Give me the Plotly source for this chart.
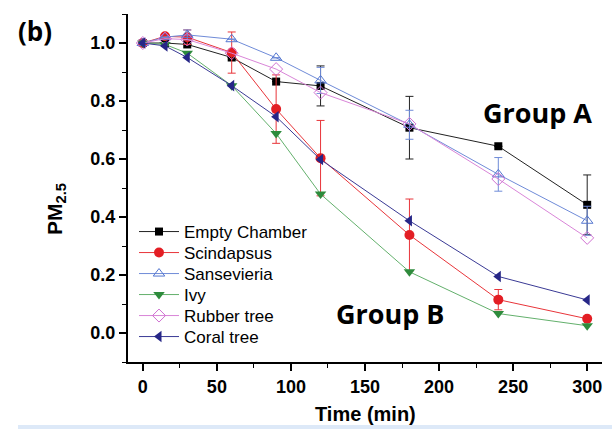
import plotly.graph_objects as go

# ---- data ----
time_min = [0, 15, 30, 60, 90, 120, 180, 240, 300]

empty_chamber = [1.0, 1.0, 0.995, 0.95, 0.867, 0.852, 0.708, 0.644, 0.442]
empty_chamber_err = [0, 0, 0, 0, 0, 0.069, 0.108, 0, 0.103]

scindapsus = [1.0, 1.023, 1.02, 0.967, 0.772, 0.603, 0.338, 0.115, 0.049]
scindapsus_err = [0, 0, 0.025, 0.071, 0.118, 0.13, 0.124, 0.035, 0]

sansevieria = [1.0, 1.02, 1.028, 1.013, 0.949, 0.871, 0.718, 0.547, 0.387]
sansevieria_err = [0, 0, 0.017, 0, 0, 0.045, 0.05, 0.058, 0.05]

ivy = [1.0, 0.995, 0.965, 0.853, 0.688, 0.479, 0.211, 0.067, 0.025]
rubber_tree = [1.0, 1.015, 1.012, 0.965, 0.91, 0.829, 0.721, 0.531, 0.328]
coral_tree = [1.0, 0.99, 0.95, 0.853, 0.746, 0.598, 0.387, 0.195, 0.114]

series_names = ["Empty Chamber", "Scindapsus", "Sansevieria", "Ivy", "Rubber tree", "Coral tree"]
x_ticks = [0, 50, 100, 150, 200, 250, 300]
y_ticks = [0.0, 0.2, 0.4, 0.6, 0.8, 1.0]

# ---- geometry helpers (pixel -> paper) ----
W, H = 612, 429
L, R, T, B = 128, 10, 14, 67
PW, PH = W - L - R, H - T - B

def px(xp):
    return (xp - L) / PW

def py(yp):
    return (H - B - yp) / PH

fig = go.Figure()

styles = [
    dict(y=empty_chamber, err=empty_chamber_err, line="#222222", mcolor="#000000", symbol="square", size=8, lw=0),
    dict(y=scindapsus, err=scindapsus_err, line="#e8353a", mcolor="#e31e24", symbol="circle", size=10, lw=0),
    dict(y=sansevieria, err=sansevieria_err, line="#6f8bd8", mcolor="#5577d0", symbol="triangle-up-open", size=10, lw=1),
    dict(y=ivy, err=None, line="#63b06c", mcolor="#2e8b3c", symbol="triangle-down", size=10, lw=0),
    dict(y=rubber_tree, err=None, line="#d985d8", mcolor="#d070d2", symbol="diamond-open", size=10, lw=1),
    dict(y=coral_tree, err=None, line="#3a3a95", mcolor="#262687", symbol="triangle-left", size=10, lw=0),
]

legend_rows = [232, 253, 274, 295, 316, 337]
legend_layout = {}

for i, (name, s) in enumerate(zip(series_names, styles)):
    kw = {}
    if s["err"] is not None:
        kw["error_y"] = dict(type="data", array=s["err"], visible=True,
                             color=s["line"], thickness=1, width=4)
    lname = "legend" if i == 0 else f"legend{i + 1}"
    fig.add_trace(go.Scatter(
        x=time_min, y=s["y"], name=name, mode="lines+markers",
        line=dict(color=s["line"], width=1),
        marker=dict(symbol=s["symbol"], size=s["size"], color=s["mcolor"],
                    line=dict(color=s["mcolor"], width=s["lw"])),
        legend=lname,
        **kw,
    ))
    legend_layout[lname] = dict(
        x=px(134), y=py(legend_rows[i]), xanchor="left", yanchor="middle",
        bgcolor="rgba(0,0,0,0)", font=dict(size=17, color="black",
                                           family="Liberation Sans, Arial"),
        itemwidth=40,
    )

axis_common = dict(
    showline=True, linecolor="black", linewidth=2, showgrid=False, zeroline=False,
    ticks="outside", ticklen=7, tickwidth=1.5, tickcolor="black",
    tickfont=dict(family="Liberation Sans, Arial", size=18, color="black", weight="bold"),
    mirror=False,
)

fig.update_xaxes(range=[-10, 310], tickvals=x_ticks,
                 minor=dict(ticks="outside", ticklen=4, tickwidth=1.2, dtick=25, tick0=0, tickcolor="black"),
                 **axis_common)
fig.update_yaxes(range=[-0.1, 1.1], tickvals=y_ticks, tickformat=".1f",
                 minor=dict(ticks="outside", ticklen=4, tickwidth=1.2, dtick=0.1, tick0=0, tickcolor="black"),
                 **axis_common)

annots = [
    dict(text="Time (min)", x=0.5, y=py(414), font=dict(size=20, weight="bold")),
    dict(text="PM<sub>2.5</sub>", x=px(56), y=py(209), textangle=-90, font=dict(size=21, weight="bold")),
    dict(text="(b)", x=px(35), y=py(31), font=dict(size=26, weight="bold", family="Open Sans, Liberation Sans")),
    dict(text="Group A", x=px(537), y=py(113), font=dict(size=27, weight="bold", family="Open Sans, Liberation Sans")),
    dict(text="Group B", x=px(390), y=py(313), font=dict(size=27, weight="bold", family="Open Sans, Liberation Sans")),
]
for a in annots:
    f = dict(family="Liberation Sans, Arial", color="black")
    f.update(a.pop("font"))
    fig.add_annotation(xref="paper", yref="paper", xanchor="center", yanchor="middle",
                       showarrow=False, font=f, **a)

fig.add_shape(type="rect", xref="paper", yref="paper",
              x0=px(18), x1=px(612), y0=py(429), y1=py(425),
              fillcolor="#dde9f8", line=dict(width=0), layer="below")

fig.update_layout(
    width=W, height=H,
    margin=dict(l=L, r=R, t=T, b=B),
    paper_bgcolor="white", plot_bgcolor="white",
    font=dict(family="Liberation Sans, Arial", color="black"),
    showlegend=True,
    **legend_layout,
)

fig.write_html("out.html", config={"displayModeBar": False},
               post_script="document.body.style.margin='0px';")
